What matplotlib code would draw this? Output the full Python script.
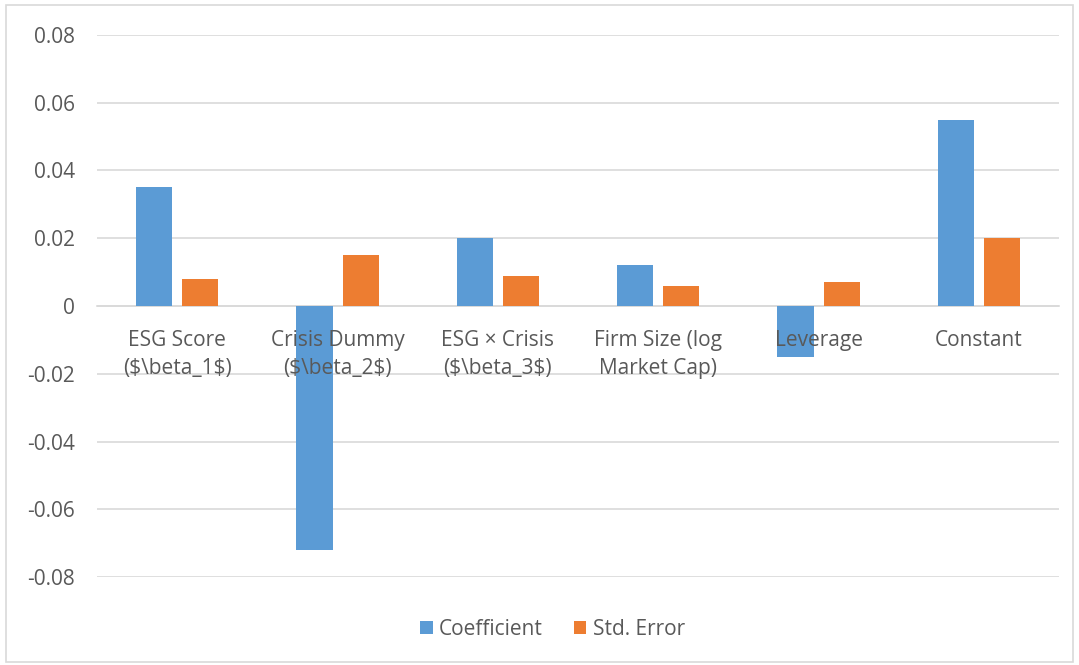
import numpy as np
import matplotlib.pyplot as plt
from matplotlib.patches import Rectangle

# Regression results per variable
variables = ["ESG Score\n($\\beta_1$)", "Crisis Dummy\n($\\beta_2$)", "ESG × Crisis\n($\\beta_3$)",
             "Firm Size (log\nMarket Cap)", "Leverage", "Constant"]
coefficient = [0.035, -0.072, 0.020, 0.012, -0.015, 0.055]
std_error = [0.008, 0.015, 0.009, 0.006, 0.007, 0.020]
y_ticks = [-0.08, -0.06, -0.04, -0.02, 0, 0.02, 0.04, 0.06, 0.08]
y_tick_labels = ["-0.08", "-0.06", "-0.04", "-0.02", "0", "0.02", "0.04", "0.06", "0.08"]

plt.rcParams['font.family'] = ['Open Sans', 'DejaVu Sans']
plt.rcParams['text.parse_math'] = False

text_color = "#595959"
grid_color = "#d9d9d9"

fig = plt.figure(figsize=(10.79, 6.65), dpi=100)
ax = fig.add_axes([0.0899, 0.1323, 0.8916, 0.8151])

x = np.arange(len(variables))
w = 0.225
gap = 0.0625
ax.bar(x - (w + gap) / 2, coefficient, width=w, color="#5B9BD5", label="Coefficient", zorder=3)
ax.bar(x + (w + gap) / 2, std_error, width=w, color="#ED7D31", label="Std. Error", zorder=3)

ax.set_xlim(-0.5, len(variables) - 0.5)
ax.set_ylim(-0.08, 0.08)
ax.set_yticks(y_ticks)
ax.set_yticklabels(y_tick_labels)
ax.yaxis.grid(True, color=grid_color, linewidth=1.2)
ax.yaxis.set_zorder(0.5)
ax.xaxis.set_zorder(4)  # category names sit on top of the bars

for side in ["left", "right", "top"]:
    ax.spines[side].set_visible(False)
ax.spines["bottom"].set_position(("data", 0))
ax.spines["bottom"].set_color(grid_color)
ax.spines["bottom"].set_linewidth(1.2)
ax.spines["bottom"].set_zorder(1)

ax.set_xticks(x)
ax.set_xticklabels(variables, linespacing=1.4)
ax.tick_params(axis="x", length=0, pad=17.5, labelsize=15, labelcolor=text_color)
ax.tick_params(axis="y", length=0, pad=16, labelsize=15, labelcolor=text_color)

fig.legend(loc="center", bbox_to_anchor=(0.512, 0.054), ncol=2, frameon=False,
           fontsize=15, labelcolor=text_color, handlelength=0.6, handleheight=0.6,
           handletextpad=0.3, columnspacing=1.5)

# light frame around the whole chart
fig.patches.append(Rectangle((0.006, 0.005), 0.988, 0.987, transform=fig.transFigure,
                             fill=False, edgecolor=grid_color, linewidth=1.2))

fig.savefig("out.png", dpi=100)
